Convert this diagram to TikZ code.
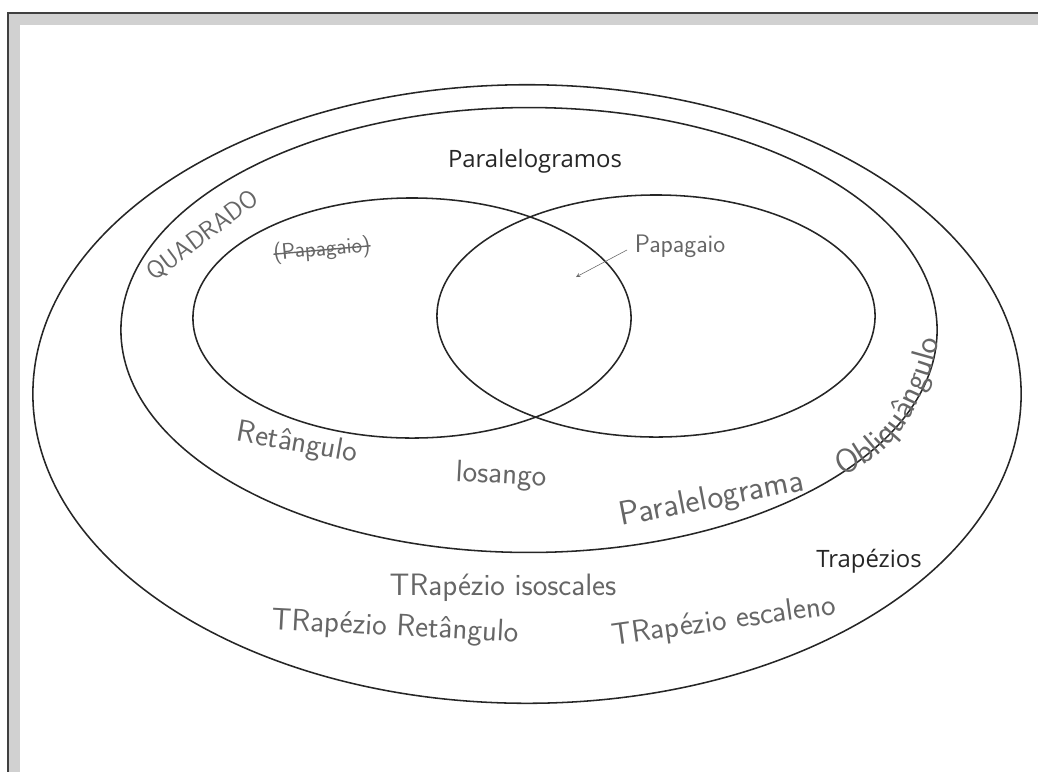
\documentclass[tikz,border=0pt]{standalone}
\usepackage{fontspec}
\newfontfamily\printfont{Open Sans}
\usetikzlibrary{decorations.text}

\begin{document}
\begin{tikzpicture}[x=0.025cm,y=-0.025cm,>=stealth,
    set line/.style={line width=1.1pt,black!85},
    hand node/.style={font=\sffamily\fontsize{22}{26}\selectfont,text=black!60,inner sep=0pt},
    small hand/.style={hand node,font=\sffamily\fontsize{18}{22}\selectfont},
    label node/.style={font=\printfont\fontsize{17}{20}\selectfont,text=black!85,inner sep=0pt}]
    \useasboundingbox (0,0) rectangle (1038,772);
    % page edge of the scan
    \fill[black!18] (8,13) rectangle (1038,25);
    \fill[black!18] (8,13) rectangle (20,772);
    \draw[black!75,line width=1.2pt] (1038,13) -- (8,13) -- (8,772);

    % sets
    \coordinate (trap) at (527,394);
    \coordinate (para) at (529,330);
    \coordinate (ret) at (412,318);
    \coordinate (los) at (656,316);
    \draw[set line] (trap) ellipse [x radius=12.35cm, y radius=7.73cm];
    \draw[set line] (para) ellipse [x radius=10.2cm, y radius=5.56cm];
    \draw[set line] (ret) ellipse [x radius=5.475cm, y radius=3cm];
    \draw[set line] (los) ellipse [x radius=5.475cm, y radius=3.025cm];

    \node[label node] (paralelogramos) at (535,161) {Paralelogramos};
    \node[label node] (trapezios) at (869,561) {Trapézios};

    \node[small hand,rotate=37] (quadrado) at (203,236) {QUADRADO};
    \node[small hand,font=\sffamily\fontsize{16}{20}\selectfont,rotate=5] (riscado) at (322,250) {(Papagaio)};
    \draw[black!60,line width=1pt] (riscado.west) -- (riscado.east);
    \node[small hand] (papagaio) at (680,246) {Papagaio};
    \coordinate (ponta) at (576,277);
    \draw[->,black!60,thin,shorten <=6pt] (papagaio.west) -- (ponta);

    \node[hand node,rotate=-10] (retangulo) at (297,444) {Retângulo};
    \node[hand node,rotate=-3] (losango) at (501,476) {losango};
    \node[hand node,font=\sffamily\fontsize{24}{28}\selectfont,rotate=11] (paralelograma) at (712,500) {Paralelograma};
    \path[decorate,decoration={text along path,text align=left,text color=black!60,
        text={|\sffamily\fontsize{24}{28}\selectfont|Obliquângulo}}]
        plot[smooth,tension=0.6] coordinates {(842,476) (878,455) (906,424) (925,387)
            (937,350) (944,312) (947,290)};

    \node[hand node] (isosceles) at (503,588) {TRapézio isoscales};
    \node[hand node,rotate=-3] (retangulo2) at (395,628) {TRapézio Retângulo};
    \node[hand node,rotate=8] (escaleno) at (724,622) {TRapézio escaleno};
\end{tikzpicture}
\end{document}
